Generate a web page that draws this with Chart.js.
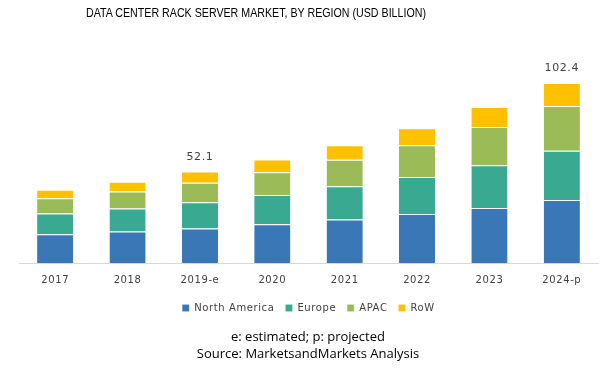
<!DOCTYPE html>
<html>
<head>
<meta charset="utf-8">
<script src="https://cdn.jsdelivr.net/npm/chart.js@4"></script>
<style>
  html, body { margin: 0; padding: 0; background: #fff; }
  #wrap { position: relative; width: 616px; height: 369px; }
  #chart { position: absolute; left: 0; top: 0; }
  .txt { position: absolute; left: 0; width: 616px; text-align: center; color: #000;
         font-family: "Open Sans", sans-serif; white-space: nowrap; }
  #title { top: 5px; left: -52px; font-size: 13.5px; font-family: "Liberation Sans", sans-serif;
           transform: scaleX(0.79); transform-origin: 50% 50%; }
  #note1 { top: 327px; font-size: 13px; }
  #note2 { top: 344px; font-size: 13px; }
</style>
</head>
<body>
<div id="wrap">
  <canvas id="chart" width="616" height="369"></canvas>
  <div id="title" class="txt">DATA CENTER RACK SERVER MARKET, BY REGION (USD BILLION)</div>
  <div id="note1" class="txt">e: estimated; p: projected</div>
  <div id="note2" class="txt">Source: MarketsandMarkets Analysis</div>
</div>
<script>
  // Values (USD billion)
  var years = ['2017', '2018', '2019-e', '2020', '2021', '2022', '2023', '2024-p'];
  var northAmerica = [16.4, 17.9, 19.6, 22.1, 24.7, 27.8, 31.3, 35.8];
  var europe = [11.8, 13.1, 14.9, 16.6, 18.9, 21.1, 24.3, 28.0];
  var apac = [8.6, 9.7, 11.1, 12.9, 15.1, 18.1, 21.7, 25.5];
  var row = [4.8, 5.5, 6.5, 7.3, 8.2, 9.7, 11.4, 13.1];
  // Totals printed above two bars only
  var totalLabels = ['', '', '52.1', '', '', '', '', '102.4'];

  var FONT = '"DejaVu Sans", Verdana, sans-serif';

  // Spaced-out lettering like the original, plus totals above the stacks
  var totalsPlugin = {
    id: 'totals',
    beforeUpdate: function(chart) { chart.ctx.letterSpacing = '0.6px'; },
    beforeDraw: function(chart) { chart.ctx.letterSpacing = '0.6px'; },
    afterDatasetsDraw: function(chart) {
      var ctx = chart.ctx;
      var x = chart.scales.x;
      var y = chart.scales.y;
      ctx.save();
      ctx.font = '11px ' + FONT;
      ctx.fillStyle = '#404040';
      ctx.textAlign = 'center';
      ctx.textBaseline = 'bottom';
      totalLabels.forEach(function(label, i) {
        if (!label) return;
        var total = northAmerica[i] + europe[i] + apac[i] + row[i];
        ctx.fillText(label, x.getPixelForValue(i), y.getPixelForValue(total) - 9);
      });
      ctx.restore();
    }
  };

  function dataset(label, data, color) {
    return {
      label: label,
      data: data,
      backgroundColor: color,
      borderColor: 'rgba(255, 255, 255, 0.55)',
      borderWidth: { top: 1 },
      borderSkipped: false,
      barPercentage: 0.5,
      categoryPercentage: 1.0
    };
  }

  new Chart(document.getElementById('chart'), {
    type: 'bar',
    data: {
      labels: years,
      datasets: [
        dataset('North America', northAmerica, '#3a77b6'),
        dataset('Europe', europe, '#3aa991'),
        dataset('APAC', apac, '#9bbb59'),
        dataset('RoW', row, '#ffc000')
      ]
    },
    plugins: [totalsPlugin],
    options: {
      responsive: false,
      animation: false,
      layout: { padding: { top: 52, left: 19, right: 18, bottom: 46 } },
      plugins: {
        legend: {
          position: 'bottom',
          labels: {
            boxWidth: 7,
            boxHeight: 7,
            padding: 11,
            color: '#404040',
            font: { family: FONT, size: 10 }
          }
        },
        tooltip: { enabled: false }
      },
      scales: {
        x: {
          stacked: true,
          grid: { display: false },
          border: { display: true, color: '#d9d9d9' },
          ticks: {
            color: '#404040',
            padding: 3,
            font: { family: FONT, size: 10 }
          },
          afterFit: function(scale) { scale.height = 29; }
        },
        y: {
          stacked: true,
          display: false,
          min: 0,
          max: 120
        }
      }
    }
  });
</script>
</body>
</html>
